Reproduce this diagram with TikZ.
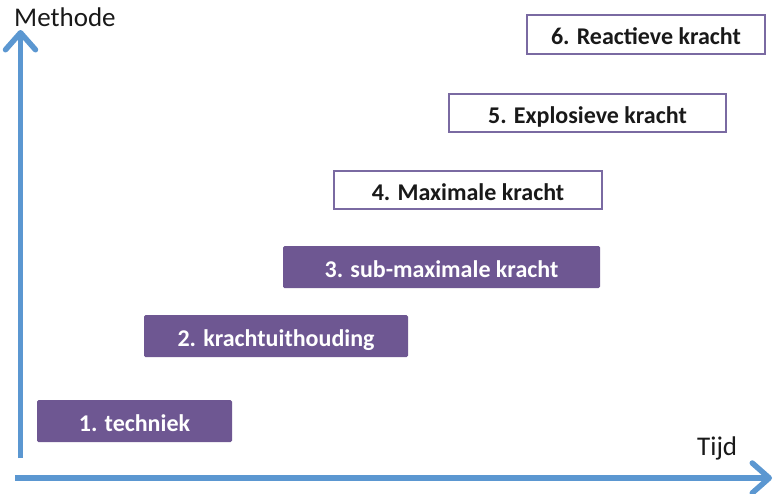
\documentclass[tikz,border=0pt]{standalone}
\usepackage{fontspec}
\setmainfont{Carlito}
\usetikzlibrary{arrows.meta}
\definecolor{axisblue}{HTML}{5B97D1}
\definecolor{boxpurple}{HTML}{6E5792}
\definecolor{edgepurple}{HTML}{7A6AA2}
\tikzset{
  axisline/.style={draw=axisblue, line width=5.5pt, -{Straight Barb[length=17pt,width=30pt,round]}},
  boxtext/.style={font=\bfseries\fontsize{24}{27}\selectfont, inner sep=0pt, text height=20pt, text depth=0pt},
  filledbox/.style={boxtext, fill=boxpurple, draw=none, rounded corners=1.5pt, text=white},
  openbox/.style={boxtext, fill=white, draw=edgepurple, line width=2.2pt, text=black!90},
  axislabel/.style={font=\fontsize{27}{30}\selectfont, text=black!90, inner sep=0pt}
}
\begin{document}
\begin{tikzpicture}[x=1pt,y=-1pt]
\useasboundingbox (0,0) rectangle (774,493);
\coordinate (vbot) at (20.5,458);
\coordinate (vtop) at (20.5,30);
\coordinate (hleft) at (15,478);
\coordinate (hright) at (772,478);
\draw[axisline] (vbot) -- (vtop);
\draw[axisline] (hleft) -- (hright);
\node[axislabel, anchor=base west] (methode) at (14,26) {Methode};
\node[axislabel, anchor=base west] (tijd) at (697,455) {Tijd};
\node[filledbox, minimum width=195pt, minimum height=42pt] (b1) at (134.5,421) {1. techniek};
\node[filledbox, minimum width=264pt, minimum height=42pt] (b2) at (276,336) {2. krachtuithouding};
\node[filledbox, minimum width=317pt, minimum height=42pt] (b3) at (441.5,267) {3. sub-maximale kracht};
\node[openbox, minimum width=268pt, minimum height=38pt] (b4) at (468,190) {4. Maximale kracht};
\node[openbox, minimum width=277pt, minimum height=38pt] (b5) at (587.5,113) {5. Explosieve kracht};
\node[openbox, minimum width=238pt, minimum height=39pt] (b6) at (646,34.5) {6. Reactieve kracht};
\end{tikzpicture}
\end{document}
